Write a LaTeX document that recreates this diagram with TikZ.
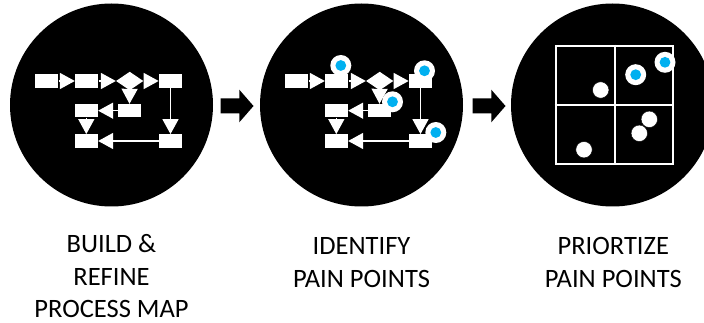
\documentclass[tikz,border=0pt]{standalone}
\usepackage{fontspec}
\setmainfont{Carlito}
\usetikzlibrary{arrows.meta,shapes.geometric}
\definecolor{dotblue}{HTML}{00B0F0}
\tikzset{
  bigcirc/.style={circle, fill=black, minimum size=203pt, inner sep=0pt},
  pbox/.style={rectangle, fill=white, minimum width=23.3pt, minimum height=13.4pt, inner sep=0pt},
  pdiam/.style={diamond, fill=white, minimum width=27.3pt, minimum height=18.6pt, inner sep=0pt},
  flow/.style={draw=white, line width=1.4pt, -{Triangle[length=15pt 0 0,width=16pt 0 0]}},
  ringdot/.style={circle, fill=white, minimum size=21pt, inner sep=0pt},
  bluedot/.style={circle, fill=dotblue, minimum size=10.8pt, inner sep=0pt},
  wdot/.style={circle, fill=white, draw=black, line width=0.4pt, minimum size=16.4pt, inner sep=0pt},
  gridbox/.style={rectangle, draw=white, line width=2pt, minimum width=117.6pt, minimum height=118.3pt, inner sep=0pt},
  gridline/.style={draw=white, line width=2pt},
  steptext/.style={font=\fontsize{26.5}{32.5}\selectfont, align=center, anchor=base, inner sep=0pt, text depth=0pt},
  procmap/.pic={
    \node[pbox] (-b1) at (-64.8,-24) {};
    \node[pbox] (-b2) at (-24.8,-24) {};
    \node[pdiam] (-d) at (18.2,-24) {};
    \node[pbox] (-b4) at (59,-24) {};
    \node[pbox] (-b6) at (18,5.7) {};
    \node[pbox] (-b5) at (-25.2,5.7) {};
    \node[pbox] (-b7) at (-25.2,36) {};
    \node[pbox] (-b8) at (59,36) {};
    \draw[flow] (-b1) -- (-b2);
    \draw[flow] (-b2) -- (-d);
    \draw[flow] (-d) -- (-b4);
    \draw[flow] (-d.center) -- (-b6.north);
    \draw[flow] (-b6) -- (-b5);
    \draw[flow] (-b5) -- (-b7);
    \draw[flow] (-b4) -- (-b8);
    \draw[flow] (-b8) -- (-b7);
  },
  bigarrow/.pic={
    \fill[black] (0,-7.5) -- (18.6,-7.5) -- (18.6,-16.3) -- (32.8,0) -- (18.6,16.3) -- (18.6,7.5) -- (0,7.5) -- cycle;
  }
}
\begin{document}
\begin{tikzpicture}[x=1pt,y=-1pt]
\useasboundingbox (0,0) rectangle (704,323);
\clip (0,0) rectangle (704,323);
% circles
\node[bigcirc] (c1) at (111.5,105) {};
\node[bigcirc] (c2) at (361.5,105) {};
\node[bigcirc] (c3) at (612.5,105) {};
% arrows between
\pic at (220.7,106) {bigarrow};
\pic at (472.7,106) {bigarrow};
% process maps
\pic (m1) at (111.5,105) {procmap};
\pic (m2) at (361.5,105) {procmap};
% pain points
\foreach \i/\p in {1/{(340.8,65.5)},2/{(424.5,70.8)},3/{(392.5,101.8)},4/{(435.8,132.5)}}{
  \node[ringdot] (r\i) at \p {};
  \node[bluedot] (pb\i) at (r\i.center) {};
}
% priority grid
\node[gridbox] (g) at (614.5,104.9) {};
\draw[gridline] (g.north) -- (g.south);
\draw[gridline] (g.west) -- (g.east);
\node[wdot] (w1) at (600.7,90) {};
\node[wdot] (w2) at (649.3,119.3) {};
\node[wdot] (w3) at (639.3,133.3) {};
\node[wdot] (w4) at (584,149.7) {};
\node[ringdot] (q1) at (635.7,74.7) {};
\node[bluedot] (qb1) at (q1.center) {};
\node[ringdot] (q2) at (665,62.3) {};
\node[bluedot] (qb2) at (q2.center) {};
% labels (anchored at the baseline of the last line)
\node[steptext] (t1) at (111.5,317.5) {BUILD \&\\REFINE\\PROCESS MAP};
\node[steptext] (t2) at (361.5,287) {IDENTIFY\\PAIN POINTS};
\node[steptext] (t3) at (613.3,287) {PRIORTIZE\\PAIN POINTS};
\end{tikzpicture}
\end{document}
